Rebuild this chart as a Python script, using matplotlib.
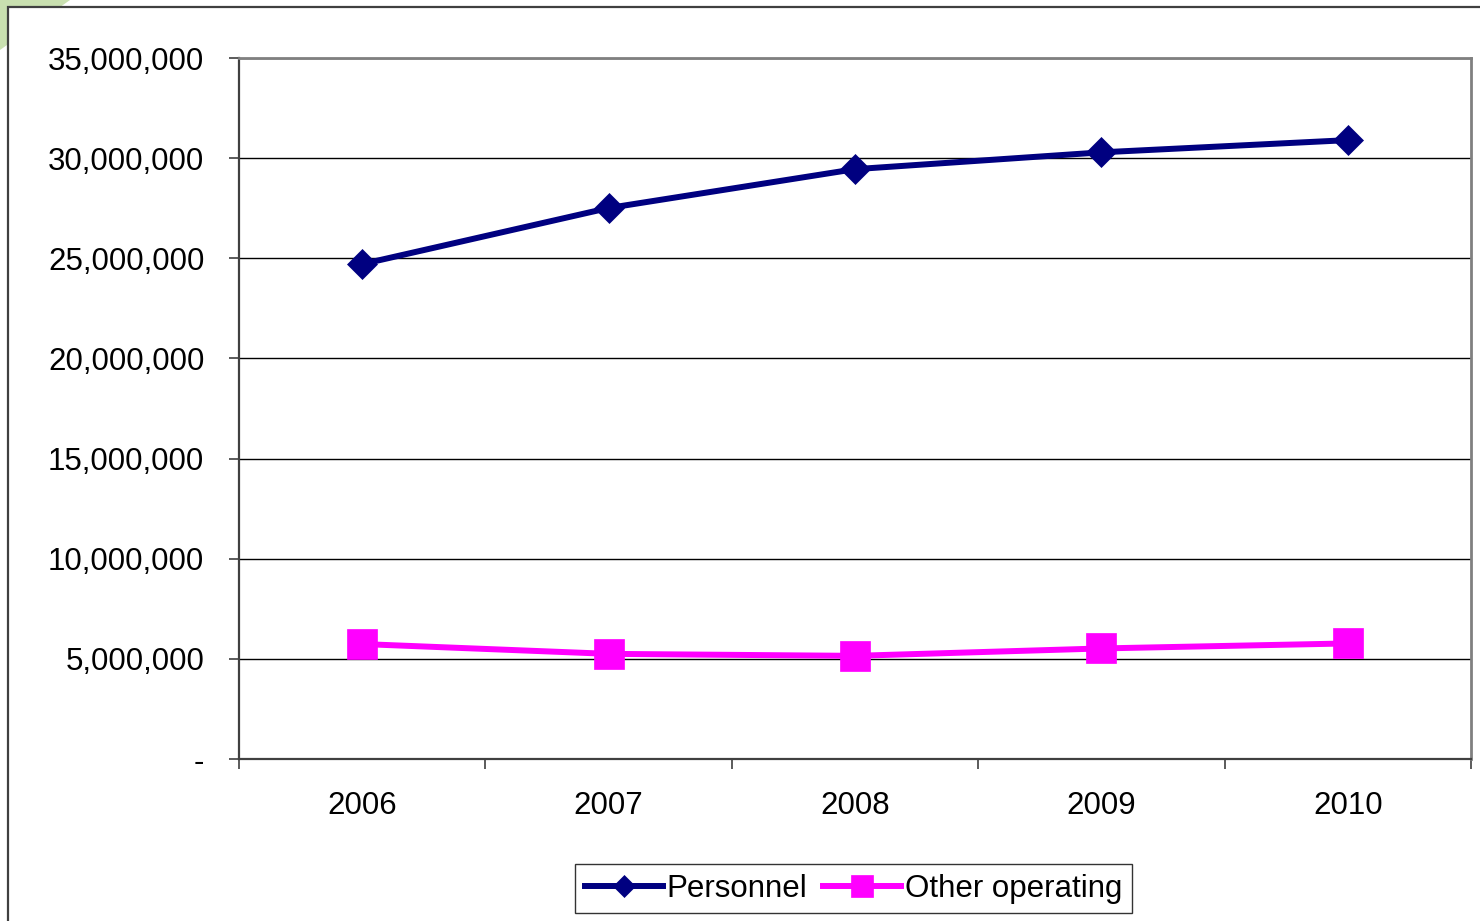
import matplotlib
matplotlib.use("Agg")
import matplotlib.pyplot as plt
from matplotlib.patches import Polygon, Rectangle
from matplotlib.ticker import FuncFormatter, FixedLocator
import numpy as np

plt.rcParams['font.family'] = ['Liberation Sans', 'DejaVu Sans']

years = ["2006", "2007", "2008", "2009", "2010"]
personnel = [24.71e6, 27.51e6, 29.45e6, 30.29e6, 30.90e6]
other_operating = [5.74e6, 5.25e6, 5.15e6, 5.52e6, 5.77e6]
y_ticks = [0, 5e6, 10e6, 15e6, 20e6, 25e6, 30e6, 35e6]

W, H = 1480, 921
fig = plt.figure(figsize=(W / 100, H / 100), dpi=100)

# decorative corner shape and chart frame
fig.patches.append(Polygon([(0, 1), (70 / W, 1), (0, 1 - 50 / H)], closed=True,
                           transform=fig.transFigure, facecolor="#c9e0b0",
                           edgecolor="none", zorder=0))
fig.patches.append(Rectangle((8 / W, -0.05), 1.2, 1 - 7 / H + 0.05,
                             transform=fig.transFigure, facecolor="white",
                             edgecolor="#404040", linewidth=1.6, zorder=1))

ax = fig.add_axes([239 / W, 1 - 759 / H, (1471 - 239) / W, (759 - 58) / H])
ax.set_zorder(2)
ax.patch.set_alpha(0)

x = np.arange(len(years))
ax.plot(x, personnel, color="#000080", linewidth=4.3, marker="D",
        markersize=15.5, markeredgewidth=0.5, label="Personnel",
        solid_joinstyle="miter", zorder=4)
ax.plot(x, other_operating, color="#FF00FF", linewidth=4.3, marker="s",
        markersize=21, markeredgewidth=0.5, label="Other operating",
        zorder=4)

ax.set_xlim(-0.5, len(years) - 0.5)
ax.set_ylim(0, 35e6)

ax.xaxis.set_major_locator(FixedLocator(np.arange(-0.5, len(years), 1.0)))
ax.xaxis.set_minor_locator(FixedLocator(x))
ax.set_xticklabels([], minor=False)
ax.set_xticklabels(years, minor=True)
ax.tick_params(axis="x", which="major", length=7, width=1.2, color="#404040",
               direction="out")
ax.tick_params(axis="x", which="minor", length=0, pad=23, labelsize=22.5)

ax.set_yticks(y_ticks)
ax.yaxis.set_major_formatter(FuncFormatter(
    lambda v, p: "-" if v == 0 else f"{v:,.0f}"))
ax.tick_params(axis="y", length=7, width=1.2, color="#404040",
               direction="out", pad=18, labelsize=22.5)

ax.grid(axis="y", color="black", linewidth=1.0)
ax.set_axisbelow(True)

for side in ("left", "bottom"):
    ax.spines[side].set_color("#404040")
    ax.spines[side].set_linewidth(1.6)
for side in ("top", "right"):
    ax.spines[side].set_color("#808080")
    ax.spines[side].set_linewidth(2.0)

leg = fig.legend(loc="center", bbox_to_anchor=(853.5 / W, 1 - 888.5 / H),
                 ncol=2, fontsize=22.5, frameon=True, fancybox=False,
                 edgecolor="black", handlelength=2.5, handletextpad=0.12,
                 columnspacing=0.5, borderpad=0.3, borderaxespad=0,
                 markerscale=0.75)
leg.get_frame().set_linewidth(1.0)
leg.set_zorder(5)

fig.savefig("out.png", dpi=100, facecolor="white")
